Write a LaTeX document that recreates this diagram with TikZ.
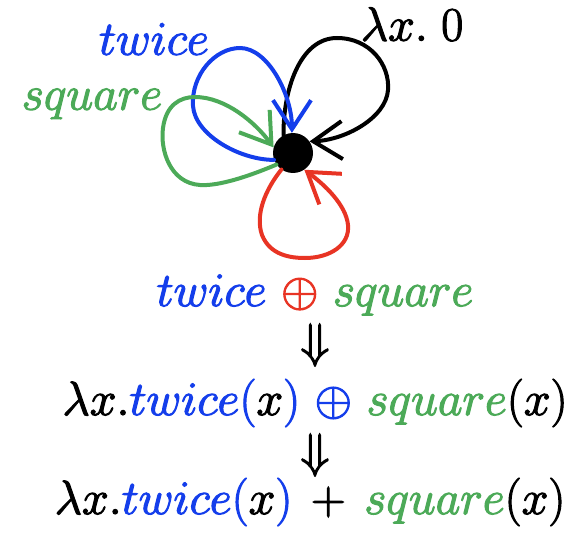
\RequirePackage{fix-cm}
\documentclass[tikz,border=0pt]{standalone}
\usepackage{amsmath}
\usetikzlibrary{arrows.meta}
\definecolor{cblue}{RGB}{20,62,235}
\definecolor{cgreen}{RGB}{76,170,88}
\definecolor{cred}{RGB}{232,52,36}
\newcommand{\heavy}[1]{\special{pdf:literal direct 2 Tr 1.1 w}#1\special{pdf:literal direct 0 Tr}}
\tikzset{
  loopline/.style={line width=4pt, line cap=round, -{Straight Barb[length=29pt,width=38pt,line width=4pt]}},
  lbl/.style={inner sep=0pt, font=\fontsize{48}{54}\selectfont},
  dotnode/.style={circle, fill=black, inner sep=0pt, minimum size=40pt}
}
\begin{document}
\begin{tikzpicture}[x=1pt,y=-1pt]
\useasboundingbox (0,0) rectangle (577,537);
\node[dotnode] (d) at (293,153) {};
% loops
\draw[loopline, black] (d.118) .. controls (283,90) and (300,38) .. (337,38)
  .. controls (370,38) and (390,65) .. (388,90)
  .. controls (386,118) and (345,140) .. (d.35);
\draw[loopline, cblue] (d.200) .. controls (240,160) and (195,135) .. (193,106)
  .. controls (191,75) and (215,48) .. (240,48)
  .. controls (268,48) and (292,95) .. (d.93);
\draw[loopline, cgreen] (d.215) .. controls (240,180) and (215,186) .. (200,185)
  .. controls (170,183) and (160,150) .. (163,128)
  .. controls (166,105) and (180,97) .. (195,97)
  .. controls (225,97) and (255,122) .. (d.164);
\draw[loopline, cred] (d.235) .. controls (265,190) and (255,215) .. (262,235)
  .. controls (270,255) and (290,258) .. (305,258)
  .. controls (330,258) and (350,245) .. (348,225)
  .. controls (346,205) and (325,185) .. (d.304);
% labels
\node[lbl, text=cblue] (ltwice) at (154,39) {\heavy{$twice$}};
\node[lbl] (lzero) at (412,24) {\heavy{$\lambda x.\;0$}};
\node[lbl, text=cgreen] (lsquare) at (92,104) {\heavy{$square$}};
\node[lbl] (l1) at (315,295) {\heavy{$\textcolor{cblue}{twice}\ \textcolor{cred}{\oplus}\ \textcolor{cgreen}{square}$}};
\node[lbl] (a1) at (315,345) {\heavy{$\Downarrow$}};
\node[lbl] (l2) at (315,403) {\heavy{$\lambda x.\textcolor{cblue}{twice(}x\textcolor{cblue}{)}\ \textcolor{cblue}{\oplus}\ \textcolor{cgreen}{square}(x)$}};
\node[lbl] (a2) at (315,455) {\heavy{$\Downarrow$}};
\node[lbl] (l3) at (310,502) {\heavy{$\lambda x.\textcolor{cblue}{twice(}x\textcolor{cblue}{)}\,+\,\textcolor{cgreen}{square}(x)$}};
\end{tikzpicture}
\end{document}
